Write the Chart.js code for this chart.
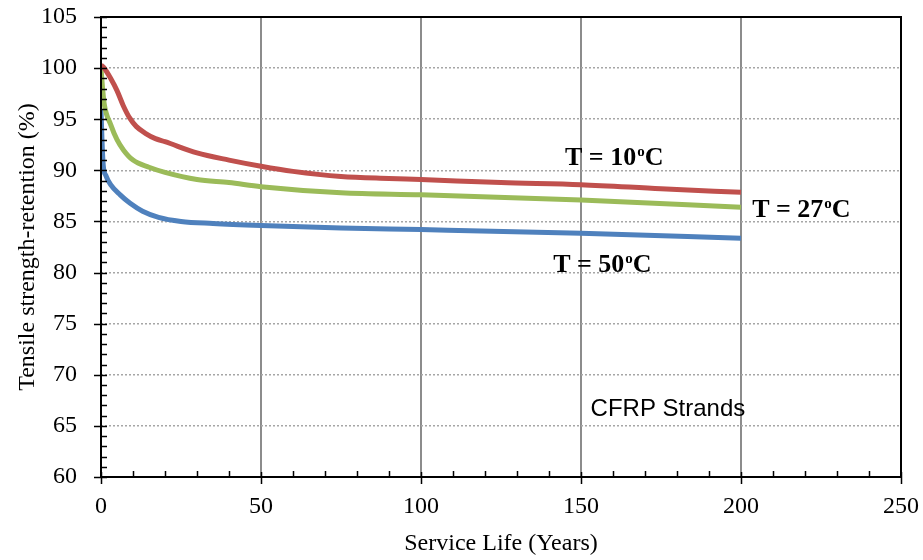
<!DOCTYPE html>
<html>
<head>
<meta charset="utf-8">
<script src="https://cdn.jsdelivr.net/npm/chart.js@4"></script>
<style>
  body { margin: 0; background: #fff; }
  #wrap { width: 923px; height: 560px; }
</style>
</head>
<body>
<div id="wrap"><canvas id="chart"></canvas></div>
<script>
// Years and retention (%) per temperature
const years10 = [0, 1, 3, 5, 7, 9, 11, 14, 17, 20, 30, 40, 50, 60, 75, 90, 100, 125, 150, 175, 200];
const values10 = [100.3, 100, 99, 97.8, 96.3, 95.1, 94.3, 93.6, 93.1, 92.8, 91.7, 91, 90.4, 89.9, 89.4, 89.2, 89.1, 88.8, 88.6, 88.2, 87.85];

const years27 = [0, 0.5, 1, 3, 5, 7, 10, 15, 20, 30, 40, 50, 75, 100, 150, 200];
const values27 = [100, 98, 96.5, 94.5, 93, 92, 91, 90.3, 89.8, 89.1, 88.8, 88.4, 87.8, 87.6, 87.1, 86.4];

const years50 = [0, 0.3, 0.7, 1.5, 3, 6, 9, 13, 18, 25, 35, 50, 75, 100, 150, 200];
const values50 = [96, 93, 90.5, 89.5, 88.6, 87.6, 86.8, 86, 85.4, 85, 84.8, 84.6, 84.35, 84.2, 83.85, 83.35];

const seriesColors = ["#C0504D", "#9BBB59", "#4F81BD"];

// Text labels on the plot: [main, superscript, tail, year, value]
const notes = [
  ["T = 10", "o", "C", 145, 90.5],
  ["T = 27", "o", "C", 203.5, 85.4],
  ["T = 50", "o", "C", 141.3, 80.05]
];

function toPoints(xs, ys) {
  return xs.map((x, i) => ({ x: x, y: ys[i] }));
}

// draws ticks, frame and the text notes
const extrasPlugin = {
  id: "extras",
  afterDraw(chart) {
    const ctx = chart.ctx;
    const xs = chart.scales.x;
    const ys = chart.scales.y;
    const area = chart.chartArea;
    ctx.save();
    ctx.strokeStyle = "#000";
    ctx.lineWidth = 2;
    ctx.strokeRect(area.left, area.top, area.right - area.left, area.bottom - area.top);

    ctx.lineWidth = 1.5;
    ctx.beginPath();
    for (let v = 60; v <= 105; v++) {
      const py = Math.round(ys.getPixelForValue(v)) + 0.5;
      if (v % 5 === 0) {
        ctx.moveTo(area.left - 7, py);
        ctx.lineTo(area.left + 6, py);
      } else {
        ctx.moveTo(area.left, py);
        ctx.lineTo(area.left + 6, py);
      }
    }
    for (let v = 0; v <= 250; v += 10) {
      const px = Math.round(xs.getPixelForValue(v)) + 0.5;
      if (v % 50 === 0) {
        ctx.moveTo(px, area.bottom - 5);
        ctx.lineTo(px, area.bottom + 7);
      } else {
        ctx.moveTo(px, area.bottom);
        ctx.lineTo(px, area.bottom - 6);
      }
    }
    ctx.stroke();

    // notes
    ctx.fillStyle = "#000";
    ctx.textBaseline = "alphabetic";
    notes.forEach(n => {
      let px = xs.getPixelForValue(n[3]);
      const py = ys.getPixelForValue(n[4]);
      ctx.font = "bold 26px 'Liberation Serif'";
      ctx.fillText(n[0], px, py);
      px += ctx.measureText(n[0]).width + 1;
      ctx.font = "bold 15px 'Liberation Serif'";
      ctx.fillText(n[1], px, py - 9);
      px += ctx.measureText(n[1]).width;
      ctx.font = "bold 26px 'Liberation Serif'";
      ctx.fillText(n[2], px, py);
    });

    ctx.font = "24px 'Liberation Sans'";
    ctx.fillText("CFRP Strands", xs.getPixelForValue(153), ys.getPixelForValue(65.96));
    ctx.restore();
  }
};

new Chart(document.getElementById("chart"), {
  type: "line",
  data: {
    datasets: [
      { label: "T = 10oC", data: toPoints(years10, values10) },
      { label: "T = 27oC", data: toPoints(years27, values27) },
      { label: "T = 50oC", data: toPoints(years50, values50) }
    ].map((d, i) => Object.assign(d, {
      borderColor: seriesColors[i],
      backgroundColor: seriesColors[i],
      borderWidth: 5,
      pointRadius: 0,
      cubicInterpolationMode: "monotone",
      fill: false
    }))
  },
  options: {
    responsive: true,
    maintainAspectRatio: false,
    animation: false,
    layout: { padding: { top: 17, right: 22, left: 0, bottom: 0 } },
    plugins: {
      legend: { display: false },
      tooltip: { enabled: false }
    },
    scales: {
      x: {
        type: "linear",
        min: 0,
        max: 250,
        afterFit: s => { s.height = 83; s.paddingLeft = 0; s.paddingRight = 0; },
        border: { display: false },
        grid: {
          drawTicks: false,
          color: ctx => (ctx.tick.value === 0 || ctx.tick.value === 250) ? "rgba(0,0,0,0)" : "#8c8c8c",
          lineWidth: 2
        },
        ticks: {
          stepSize: 50,
          padding: 15,
          color: "#000",
          font: { family: "'Liberation Serif'", size: 24 }
        },
        title: {
          display: true,
          text: "Service Life (Years)",
          color: "#000",
          padding: { top: 0, bottom: 2 },
          font: { family: "'Liberation Serif'", size: 24 }
        }
      },
      y: {
        min: 60,
        max: 105,
        afterFit: s => { s.width = 101; s.paddingTop = 0; s.paddingBottom = 0; },
        border: { display: false, dash: [2, 2] },
        grid: {
          drawTicks: false,
          color: ctx => (ctx.tick.value === 60 || ctx.tick.value === 105) ? "rgba(0,0,0,0)" : "#a6a6a6",
          lineWidth: 1.5
        },
        ticks: {
          stepSize: 5,
          padding: 24,
          color: "#000",
          font: { family: "'Liberation Serif'", size: 24 }
        },
        title: {
          display: true,
          text: "Tensile strength-retention (%)",
          color: "#000",
          padding: { top: 13, bottom: 0 },
          font: { family: "'Liberation Serif'", size: 24 }
        }
      }
    }
  },
  plugins: [extrasPlugin]
});
</script>
</body>
</html>
